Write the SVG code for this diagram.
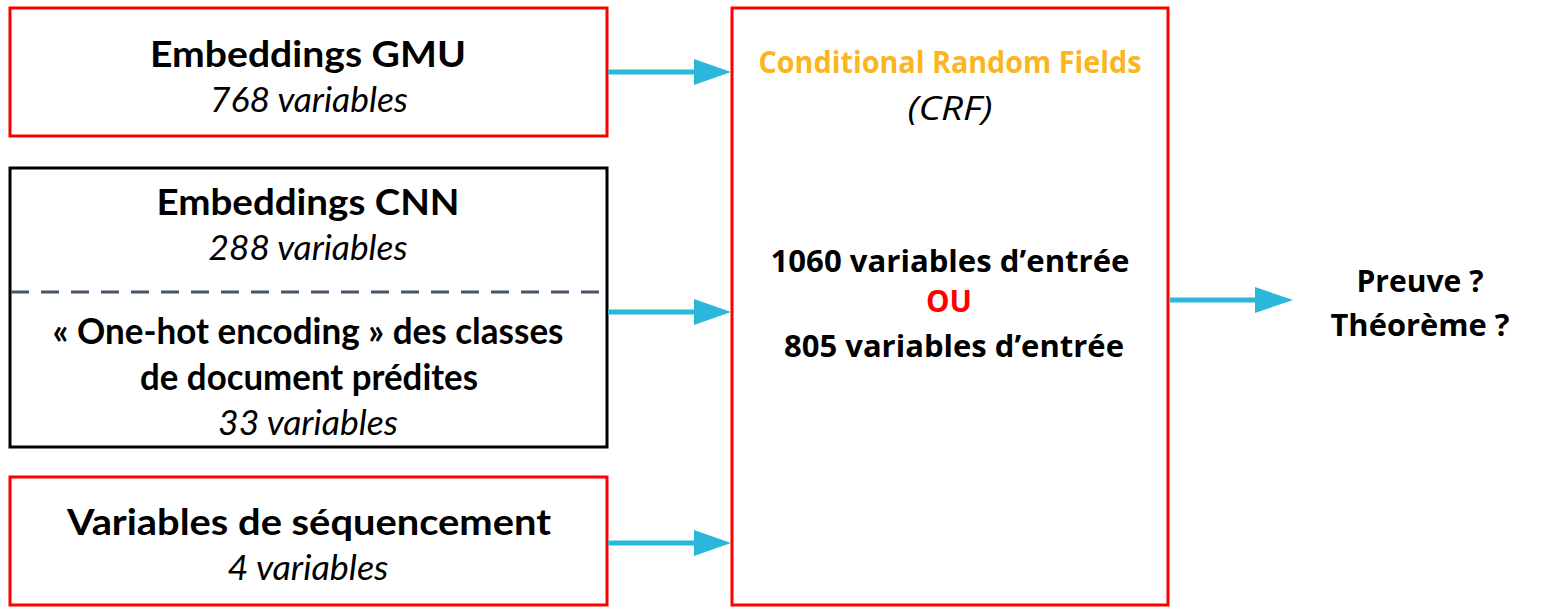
<svg xmlns="http://www.w3.org/2000/svg" width="1563" height="608" viewBox="0 0 1563 608">
  <style>
    .box-red { fill: #ffffff; stroke: #ff0000; stroke-width: 3; }
    .box-black { fill: #ffffff; stroke: #000000; stroke-width: 3; }
    .sep { stroke: #44546a; stroke-width: 3; stroke-dasharray: 18 12; fill: none; }
    .shaft { stroke: #2ab7da; stroke-width: 5; fill: none; }
    .head { fill: #2ab7da; }
    text { font-family: Lato, "Open Sans", "Liberation Sans", sans-serif; text-anchor: middle; fill: #000000; }
    .title { font-size: 37px; font-weight: bold; }
    .sub { font-size: 35px; font-style: italic; }
    .crf { font-family: "Open Sans", Lato, "Liberation Sans", sans-serif; font-size: 31px; font-weight: bold; }
    .crf-sub { font-family: "Open Sans", Lato, "Liberation Sans", sans-serif; font-size: 33px; font-style: italic; }
  </style>

  <!-- input feature blocks -->
  <g id="node-gmu">
    <rect class="box-red" x="10" y="8" width="597" height="128"/>
    <text class="title" x="308" y="67" textLength="316" lengthAdjust="spacingAndGlyphs">Embeddings GMU</text>
    <text class="sub" x="309" y="112" textLength="198" lengthAdjust="spacingAndGlyphs">768 variables</text>
  </g>

  <g id="node-cnn">
    <rect class="box-black" x="10" y="168" width="597" height="279"/>
    <text class="title" x="308" y="215" textLength="303" lengthAdjust="spacingAndGlyphs">Embeddings CNN</text>
    <text class="sub" x="308" y="260" textLength="199" lengthAdjust="spacingAndGlyphs">288 variables</text>
    <line class="sep" x1="11" y1="292" x2="606" y2="292"/>
    <text class="title" x="308" y="344" textLength="511" lengthAdjust="spacingAndGlyphs">« One-hot encoding » des classes</text>
    <text class="title" x="309" y="390" textLength="338" lengthAdjust="spacingAndGlyphs">de document prédites</text>
    <text class="sub" x="308" y="435" textLength="180" lengthAdjust="spacingAndGlyphs">33 variables</text>
  </g>

  <g id="node-seq">
    <rect class="box-red" x="10" y="477" width="597" height="128"/>
    <text class="title" x="309" y="535" textLength="484" lengthAdjust="spacingAndGlyphs">Variables de séquencement</text>
    <text class="sub" x="308" y="580" textLength="161" lengthAdjust="spacingAndGlyphs">4 variables</text>
  </g>

  <!-- model block -->
  <g id="node-crf">
    <rect class="box-red" x="732" y="8" width="436" height="597"/>
    <text class="crf" x="950" y="73" style="fill:#fbb51e" textLength="383" lengthAdjust="spacingAndGlyphs">Conditional Random Fields</text>
    <text class="crf-sub" x="950" y="120" textLength="85" lengthAdjust="spacingAndGlyphs">(CRF)</text>
    <text class="crf" x="950" y="272" textLength="359" lengthAdjust="spacingAndGlyphs">1060 variables d’entrée</text>
    <text class="crf" x="949" y="312" style="fill:#ff0000" textLength="46" lengthAdjust="spacingAndGlyphs">OU</text>
    <text class="crf" x="954" y="357" textLength="340" lengthAdjust="spacingAndGlyphs">805 variables d’entrée</text>
  </g>

  <!-- output -->
  <g id="node-output">
    <text class="crf" x="1420" y="292" textLength="127" lengthAdjust="spacingAndGlyphs">Preuve ?</text>
    <text class="crf" x="1420" y="336" textLength="179" lengthAdjust="spacingAndGlyphs">Théorème ?</text>
  </g>

  <!-- connectors -->
  <g id="connectors">
    <line class="shaft" x1="608" y1="72" x2="697" y2="72"/>
    <polygon class="head" points="694,59 731,72 694,85"/>
    <line class="shaft" x1="608" y1="312" x2="697" y2="312"/>
    <polygon class="head" points="694,299 731,312 694,325"/>
    <line class="shaft" x1="608" y1="543" x2="697" y2="543"/>
    <polygon class="head" points="694,530 731,543 694,556"/>
    <line class="shaft" x1="1170" y1="300" x2="1258" y2="300"/>
    <polygon class="head" points="1255,287 1293,300 1255,313"/>
  </g>
</svg>
